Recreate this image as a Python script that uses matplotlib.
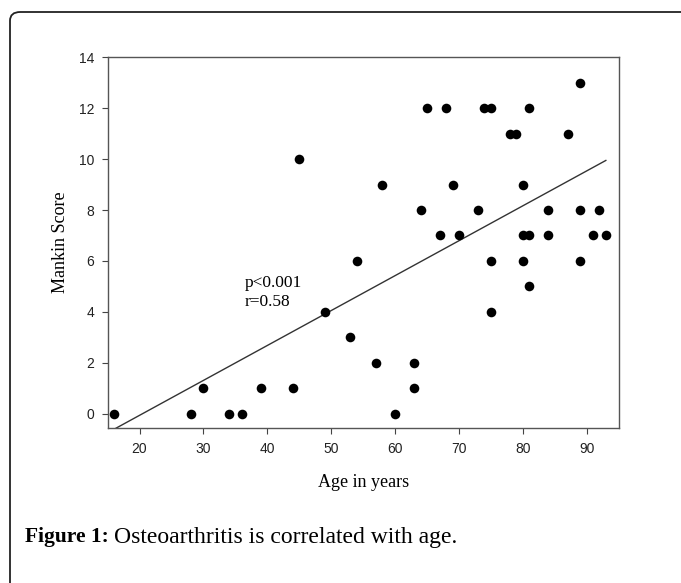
import numpy as np
import matplotlib
matplotlib.use("Agg")
import matplotlib.pyplot as plt
from matplotlib.patches import FancyBboxPatch

# age (years) and Mankin score
ages = [16, 28, 30, 34, 36, 39, 44, 45, 49, 53, 54, 57, 58, 60, 63, 63, 64, 65,
        67, 68, 69, 70, 73, 74, 75, 75, 75, 78, 79, 80, 80, 80, 81, 81, 81, 84,
        84, 87, 89, 89, 89, 91, 92, 93]
scores = [0, 0, 1, 0, 0, 1, 1, 10, 4, 3, 6, 2, 9, 0, 2, 1, 8, 12,
          7, 12, 9, 7, 8, 12, 12, 6, 4, 11, 11, 9, 7, 6, 7, 12, 5, 8,
          7, 11, 13, 8, 6, 7, 8, 7]
xticks = [20, 30, 40, 50, 60, 70, 80, 90]
yticks = [0, 2, 4, 6, 8, 10, 12, 14]
stats_lines = ["p<0.001", "r=0.58"]

serif = "Liberation Serif"
sans = "Liberation Sans"

fig = plt.figure(figsize=(6.81, 5.83), dpi=100)

# rounded frame around the figure box, running off the right and bottom
frame = FancyBboxPatch((10 / 681, 0 - 0.1), 1.2, (583 - 12) / 583 + 0.1,
                       boxstyle="round,pad=0,rounding_size=0.015",
                       transform=fig.transFigure, fill=False,
                       edgecolor="#222222", linewidth=1.3, clip_on=False)
fig.patches.append(frame)

ax = fig.add_axes([0.158, 0.2664, 0.7504, 0.6353])

x = np.array(ages, dtype=float)
y = np.array(scores, dtype=float)
ax.scatter(x, y, s=48, color="black", zorder=3, linewidths=0)

# least squares line over the data range
slope, icept = np.polyfit(x, y, 1)
xl = np.array([x.min(), x.max()])
ax.plot(xl, slope * xl + icept, color="#333333", linewidth=1.0, zorder=2)

ax.text(36.5, 4.98, stats_lines[0], fontsize=12.5, family=serif, va="baseline")
ax.text(36.5, 4.22, stats_lines[1], fontsize=12.5, family=serif, va="baseline")

ax.set_xlim(15, 95)
ax.set_ylim(-0.55, 14)
ax.set_xticks(xticks)
ax.set_yticks(yticks)
for lab in ax.get_xticklabels() + ax.get_yticklabels():
    lab.set_family(sans)
    lab.set_fontsize(10)
    lab.set_color("#222222")
ax.tick_params(direction="out", length=4.5, width=0.8, color="#444444")
ax.tick_params(axis="x", pad=6)
ax.tick_params(axis="y", pad=5)
for sp in ax.spines.values():
    sp.set_color("#555555")
    sp.set_linewidth(1.0)

ax.set_xlabel("Age in years", family=serif, fontsize=13, labelpad=13)
ax.set_ylabel("Mankin Score", family=serif, fontsize=13, labelpad=7)

# caption: bold label followed by plain text
cap_y = 1 - 537 / 583
t1 = fig.text(25 / 681, cap_y, "Figure 1:", family=serif, fontweight="bold",
              fontsize=15.5, va="center", ha="left")
fig.canvas.draw()
bb = t1.get_window_extent(fig.canvas.get_renderer())
x2 = (bb.x1 + 5) / fig.bbox.width
fig.text(x2, cap_y, "Osteoarthritis is correlated with age.",
         family=serif, fontsize=17, va="center", ha="left")

fig.savefig("out.png", dpi=100)
